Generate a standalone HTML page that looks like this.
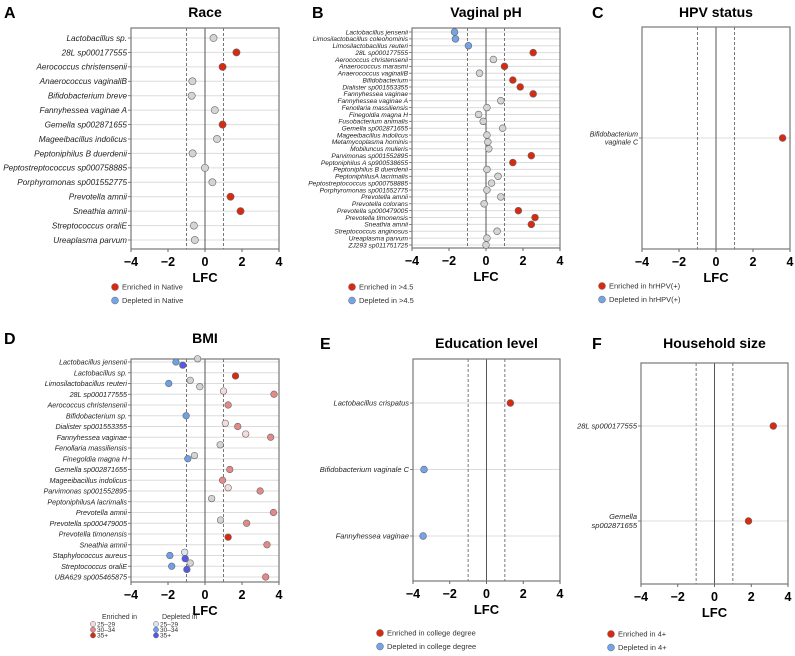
<!DOCTYPE html>
<html><head><meta charset="utf-8">
<style>
html,body{margin:0;padding:0;background:#fff;}
svg{display:block;font-family:"Liberation Sans",Arial,sans-serif;}
</style></head>
<body>
<svg id="fig" width="795" height="656" viewBox="0 0 795 656" xmlns="http://www.w3.org/2000/svg"></svg>
<script>
// ---- Data ----
const raceSpecies=["Lactobacillus sp.","28L sp000177555","Aerococcus christensenii","Anaerococcus vaginaliB","Bifidobacterium breve","Fannyhessea vaginae A","Gemella sp002871655","Mageeibacillus indolicus","Peptoniphilus B duerdenii","Peptostreptococcus sp000758885","Porphyromonas sp001552775","Prevotella amnii","Sneathia amnii","Streptococcus oraliE","Ureaplasma parvum"];
const raceLFC=[0.46,1.7,0.95,-0.68,-0.72,0.53,0.95,0.65,-0.67,0.0,0.4,1.38,1.92,-0.6,-0.55];
const raceSig=["n","e","e","n","n","n","e","n","n","n","n","e","e","n","n"];

const phSpecies=["Lactobacillus jensenii","Limosilactobacillus coleohominis","Limosilactobacillus reuteri","28L sp000177555","Aerococcus christensenii","Anaerococcus marasmi","Anaerococcus vaginaliB","Bifidobacterium","Dialister sp001553355","Fannyhessea vaginae","Fannyhessea vaginae A","Fenollaria massiliensis","Finegoldia magna H","Fusobacterium animalis","Gemella sp002871655","Mageeibacillus indolicus","Metamycoplasma hominis","Mobiluncus mulieris","Parvimonas sp001552895","Peptoniphilus A sp900538655","Peptoniphilus B duerdenii","PeptoniphilusA lacrimalis","Peptostreptococcus sp000758885","Porphyromonas sp001552775","Prevotella amnii","Prevotella colorans","Prevotella sp000479005","Prevotella timonensis","Sneathia amnii","Streptococcus anginosus","Ureaplasma parvum","ZJ293 sp011751725"];
const phLFC=[-1.7,-1.65,-0.95,2.55,0.4,1.0,-0.35,1.45,1.85,2.55,0.8,0.05,-0.4,-0.15,0.9,0.05,0.1,0.15,2.45,1.45,0.05,0.65,0.3,0.05,0.8,-0.1,1.75,2.65,2.45,0.6,0.05,0.0];
const phSig=["d","d","d","e","n","e","n","e","e","e","n","n","n","n","n","n","n","n","e","e","n","n","n","n","n","n","e","e","e","n","n","n"];

const hpvSpecies=["Bifidobacterium\nvaginale C"];
const hpvLFC=[3.6];
const hpvSig=["e"];

const bmiSpecies=["Lactobacillus jensenii","Lactobacillus sp.","Limosilactobacillus reuteri","28L sp000177555","Aerococcus christensenii","Bifidobacterium sp.","Dialister sp001553355","Fannyhessea vaginae","Fenollaria massiliensis","Finegoldia magna H","Gemella sp002871655","Mageeibacillus indolicus","Parvimonas sp001552895","PeptoniphilusA lacrimalis","Prevotella amnii","Prevotella sp000479005","Prevotella timonensis","Sneathia amnii","Staphylococcus aureus","Streptococcus oraliE","UBA629 sp005465875"];
const bmiPointRow=[0,0,0,1,2,2,2,3,3,4,5,6,6,7,7,8,9,9,10,11,12,12,13,14,15,15,16,17,18,18,18,19,19,19,20];
const bmiPointLFC=[-0.4,-1.57,-1.2,1.65,-0.8,-1.96,-0.28,1.0,3.73,1.25,-1.02,1.1,1.77,2.2,3.55,0.82,-0.57,-0.93,1.34,0.95,1.25,2.98,0.36,3.7,0.84,2.25,1.25,3.35,-1.1,-1.9,-1.07,-0.8,-1.8,-0.98,3.28];
const bmiPointLevel=[0,1,2,2,0,1,2,0,1,1,1,0,1,0,1,0,0,1,1,1,0,1,0,1,0,1,2,1,0,1,2,0,1,2,1];
const bmiPointDir=["n","d","d","e","n","d","n","e","e","e","d","e","e","e","e","n","n","d","e","e","e","e","n","e","n","e","e","e","d","d","d","n","d","d","e"];

const eduSpecies=["Lactobacillus crispatus","Bifidobacterium vaginale C","Fannyhessea vaginae"];
const eduLFC=[1.3,-3.4,-3.45];
const eduSig=["e","d","d"];

const hhSpecies=["28L sp000177555","Gemella\nsp002871655"];
const hhLFC=[3.2,1.85];
const hhSig=["e","e"];

const ticks=[-4,-2,0,2,4];

// ---- Drawing ----
const NS="http://www.w3.org/2000/svg";
const svg=document.getElementById("fig");
function mk(tag,attrs,parent,text){
  const e=document.createElementNS(NS,tag);
  for(const k in attrs)e.setAttribute(k,attrs[k]);
  if(text!==undefined)e.textContent=text;
  (parent||svg).appendChild(e);return e;
}
const RED="#d82a10",BLUE="#74a3e8",GRAY="#d4d4d4";
const SIGCOL={e:RED,d:BLUE,n:GRAY};
const BMICOL={e:["#f5dcdc","#e38a88","#d82a10"],d:["#d8e6f6","#6ea0e8","#5858e6"]};

function panel(p){
  const g=mk("g",{});
  
  
  const xs=v=>p.x0+(v+4)/8*(p.x1-p.x0);
  const n=p.species.length;
  const ys=i=>n===1?p.rowA:p.rowA+i*(p.rowB-p.rowA)/(n-1);
  const L=mk("text",{x:p.lx,y:p.ty+6,"font-size":16,"font-weight":"bold"},g,p.letter);
  
  
  const T=mk("text",{x:(p.x0+p.x1)/2,y:p.ty+5,"font-size":14,"font-weight":"bold","text-anchor":"middle"},g,p.title);
  
  
  for(let i=0;i<n;i++){
    const y=ys(i);
    mk("line",{x1:p.x0,x2:p.x1,y1:y,y2:y,stroke:"#dcdcdc","stroke-width":1},g);
    mk("line",{x1:p.x0-3,x2:p.x0,y1:y,y2:y,stroke:"#666","stroke-width":0.8},g);
    const lines=p.species[i].split("\n");
    const t=mk("text",{x:p.x0-4,y:y+p.fs*0.35-(lines.length-1)*p.fs*0.6,"font-size":p.fs,"font-style":"italic","text-anchor":"end",fill:"#222"},g);
    
    
    lines.forEach((ln,j)=>{mk("tspan",{x:p.x0-4,dy:j?p.fs*1.2:0},t,ln);});
  }
  [-1,1].forEach(v=>mk("line",{x1:xs(v),x2:xs(v),y1:p.y0,y2:p.y1,stroke:"#555","stroke-width":0.8,"stroke-dasharray":"3,2"},g));
  mk("line",{x1:xs(0),x2:xs(0),y1:p.y0,y2:p.y1,stroke:"#555","stroke-width":1},g);
  const fr=mk("rect",{x:p.x0,y:p.y0,width:p.x1-p.x0,height:p.y1-p.y0,fill:"none",stroke:"#777","stroke-width":1.2},g);
  
  
  ticks.forEach(v=>{
    mk("line",{x1:xs(v),x2:xs(v),y1:p.y1,y2:p.y1+3,stroke:"#666"},g);
    const tt=mk("text",{x:xs(v),y:p.y1+17,"font-size":12.5,"font-weight":"bold","text-anchor":"middle"},g,v<0?"\u2212"+Math.abs(v):String(v));
    
    
  });
  const ax=mk("text",{x:xs(0),y:p.y1+33,"font-size":13,"font-weight":"bold","text-anchor":"middle"},g,"LFC");
  
  
  if(p.points){
    p.points.forEach(pt=>{
      const c=mk("circle",{cx:xs(pt.v),cy:ys(pt.r)+pt.dy,r:p.pr,fill:pt.col,stroke:"#666","stroke-width":0.6},g);
      
      
    });
  }else{
    p.lfc.forEach((v,i)=>{
      const c=mk("circle",{cx:xs(v),cy:ys(i),r:p.pr,fill:SIGCOL[p.sig[i]],stroke:"#666","stroke-width":0.6},g);
      
      
    });
  }
  if(p.leg){
    p.leg.forEach((s,j)=>{
      const y=p.legY+j*13.5;
      mk("circle",{cx:p.legX,cy:y,r:3.5,fill:j?BLUE:RED,stroke:"#666","stroke-width":0.5},g);
      const lt=mk("text",{x:p.legX+7,y:y+2.5,"font-size":7.5,fill:"#333"},g,s);
      
      
    });
  }
}

panel({name:"race-panel",letter:"A",title:"Race",lx:4,ty:12,x0:131,x1:279,y0:28,y1:249,rowA:38,rowB:240,fs:8.2,pr:3.6,
  species:raceSpecies,lfc:raceLFC,sig:raceSig,legX:115,legY:287,leg:["Enriched in Native","Depleted in Native"]});
panel({name:"ph-panel",letter:"B",title:"Vaginal pH",lx:312,ty:12,x0:412,x1:560,y0:28,y1:248,rowA:32,rowB:245,fs:6.6,pr:3.4,
  species:phSpecies,lfc:phLFC,sig:phSig,legX:352,legY:287,leg:["Enriched in >4.5","Depleted in >4.5"]});
panel({name:"hpv-panel",letter:"C",title:"HPV status",lx:592,ty:12,x0:642,x1:790,y0:27,y1:249,rowA:138,rowB:138,fs:7,pr:3.4,
  species:hpvSpecies,lfc:hpvLFC,sig:hpvSig,legX:602,legY:286,leg:["Enriched in hrHPV(+)","Depleted in hrHPV(+)"]});

const bmiPts=bmiPointLFC.map((v,i)=>({v:v,r:bmiPointRow[i],dy:(bmiPointLevel[i]-1)*3.2,
  col:bmiPointDir[i]==="n"?GRAY:BMICOL[bmiPointDir[i]][bmiPointLevel[i]]}));
panel({name:"bmi-panel",letter:"D",title:"BMI",lx:4,ty:338,x0:131,x1:279,y0:359,y1:582,rowA:362,rowB:577,fs:7.2,pr:3.3,
  species:bmiSpecies,points:bmiPts});
panel({name:"education-panel",letter:"E",title:"Education level",lx:320,ty:343,x0:413,x1:560,y0:359,y1:581,rowA:403,rowB:536,fs:7.5,pr:3.4,
  species:eduSpecies,lfc:eduLFC,sig:eduSig,legX:380,legY:633,leg:["Enriched in college degree","Depleted in college degree"]});
panel({name:"household-panel",letter:"F",title:"Household size",lx:592,ty:343,x0:641,x1:788,y0:363,y1:584,rowA:426,rowB:521,fs:7.5,pr:3.4,
  species:hhSpecies,lfc:hhLFC,sig:hhSig,legX:611,legY:634,leg:["Enriched in 4+","Depleted in 4+"]});

const bl=mk("g",{});


mk("text",{x:102,y:619,"font-size":7,fill:"#333"},bl,"Enriched in");
mk("text",{x:162,y:619,"font-size":7,fill:"#333"},bl,"Depleted in");
["25\u201329","30\u201334","35+"].forEach((s,j)=>{
  const y=624+j*5.7;
  mk("circle",{cx:93,cy:y,r:2.6,fill:BMICOL.e[j],stroke:"#666","stroke-width":0.5},bl);
  const a=mk("text",{x:97,y:y+2.3,"font-size":6.5,fill:"#333"},bl,s);
  
  
  mk("circle",{cx:156,cy:y,r:2.6,fill:BMICOL.d[j],stroke:"#666","stroke-width":0.5},bl);
  const b=mk("text",{x:160,y:y+2.3,"font-size":6.5,fill:"#333"},bl,s);
  
  
});
</script>
</body></html>
